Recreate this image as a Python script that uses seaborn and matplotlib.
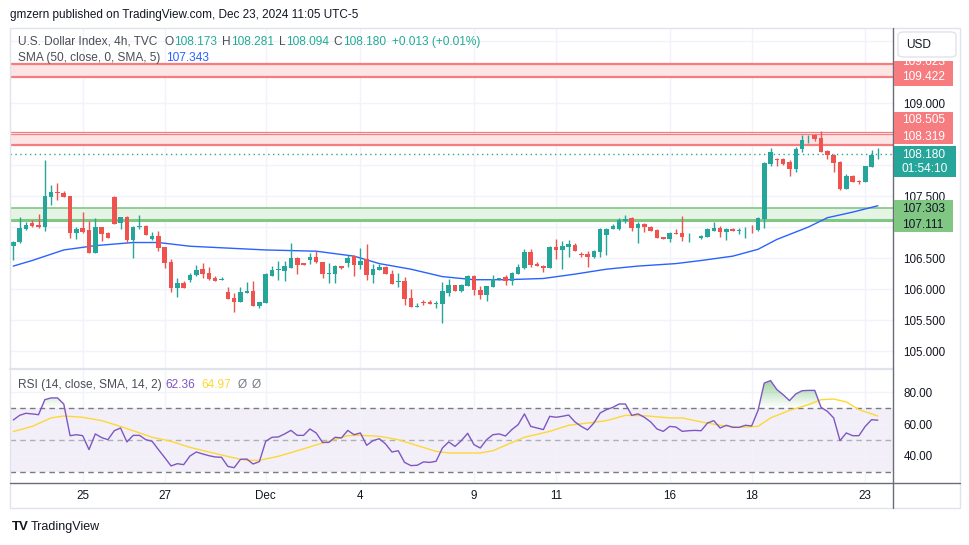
import numpy as np
import pandas as pd
import seaborn as sns
import matplotlib.pyplot as plt
from matplotlib.patches import Rectangle, FancyBboxPatch
from matplotlib.lines import Line2D
from matplotlib.path import Path
from matplotlib.colors import to_rgb

# ---- data (U.S. Dollar Index, 4h bars) ----
opens = [106.699, 106.758, 106.973, 107.065, 107.027, 107.005, 107.489, 107.565, 107.548, 107.500,
         106.909, 106.984, 106.952, 106.586, 107.000, 106.903, 107.484, 107.070, 107.161, 106.796,
         106.995, 107.016, 106.812, 106.855, 106.683, 106.436, 106.022, 106.097, 106.151, 106.220,
         106.323, 106.258, 106.183, 106.151, 105.952, 105.855, 105.790, 105.941, 105.968, 105.732,
         105.780, 106.215, 106.312, 106.296, 106.344, 106.506, 106.414, 106.474, 106.516, 106.436,
         106.248, 106.248, 106.371, 106.420, 106.527, 106.382, 106.479, 106.226, 106.307, 106.355,
         106.248, 106.108, 106.129, 105.850, 105.715, 105.796, 105.796, 105.764, 105.764, 105.941,
         106.070, 105.974, 106.054, 106.210, 105.984, 105.909, 106.038, 106.156, 106.188, 106.134,
         106.247, 106.344, 106.597, 106.403, 106.376, 106.344, 106.677, 106.629, 106.683, 106.710,
         106.565, 106.565, 106.511, 106.597, 106.876, 106.962, 106.962, 107.097, 107.145, 106.989,
         107.048, 106.995, 106.952, 106.839, 106.812, 106.903, 106.903, 106.866, 106.866, 106.817,
         106.844, 106.941, 106.989, 106.914, 106.973, 106.936, 106.962, 106.973, 106.952, 107.134,
         108.022, 108.097, 108.097, 108.048, 107.941, 108.253, 108.414, 108.489, 108.430, 108.220,
         108.156, 108.048, 107.613, 107.823, 107.742, 107.731, 107.973, 108.173]
highs = [106.780, 107.161, 107.086, 107.113, 107.210, 108.081, 107.677, 107.710, 107.581, 107.500,
         107.000, 107.242, 107.097, 107.145, 107.000, 106.919, 107.500, 107.161, 107.177, 107.016,
         107.194, 107.027, 106.919, 106.936, 106.683, 106.484, 106.177, 106.129, 106.258, 106.387,
         106.419, 106.355, 106.210, 106.199, 106.032, 105.941, 106.032, 106.113, 106.129, 105.791,
         106.253, 106.371, 106.452, 106.457, 106.742, 106.522, 106.425, 106.576, 106.613, 106.436,
         106.425, 106.387, 106.376, 106.549, 106.543, 106.667, 106.726, 106.398, 106.409, 106.371,
         106.307, 106.258, 106.199, 106.000, 105.769, 105.828, 105.823, 105.807, 106.108, 106.167,
         106.070, 106.081, 106.232, 106.232, 106.054, 106.049, 106.220, 106.183, 106.226, 106.280,
         106.398, 106.645, 106.640, 106.435, 106.387, 106.694, 106.806, 106.769, 106.785, 106.742,
         106.602, 106.618, 106.629, 106.984, 106.989, 107.048, 107.140, 107.194, 107.167, 107.086,
         107.070, 107.016, 106.973, 106.839, 106.919, 106.968, 107.183, 106.909, 106.876, 106.871,
         106.978, 107.081, 107.016, 106.978, 106.989, 106.978, 107.005, 107.032, 107.161, 108.048,
         108.269, 108.107, 108.118, 108.081, 108.285, 108.489, 108.478, 108.500, 108.543, 108.242,
         108.172, 108.065, 107.855, 107.839, 107.763, 107.984, 108.242, 108.281]
lows = [106.473, 106.747, 106.952, 107.005, 106.984, 106.941, 107.355, 107.441, 107.489, 106.828,
        106.812, 106.898, 106.586, 106.586, 106.780, 106.828, 107.054, 106.973, 106.747, 106.505,
        106.962, 106.876, 106.796, 106.618, 106.344, 105.957, 105.876, 106.022, 106.118, 106.210,
        106.183, 106.151, 106.134, 106.151, 105.844, 105.629, 105.790, 105.930, 105.732, 105.699,
        105.780, 106.215, 106.146, 106.135, 106.344, 106.248, 106.388, 106.409, 106.425, 106.172,
        106.103, 106.103, 106.323, 106.355, 106.215, 106.323, 106.146, 106.103, 106.307, 106.248,
        106.086, 106.027, 105.748, 105.715, 105.715, 105.742, 105.753, 105.699, 105.446, 105.887,
        105.974, 105.957, 106.054, 105.904, 105.844, 105.812, 106.038, 106.145, 106.065, 106.059,
        106.247, 106.328, 106.360, 106.376, 106.280, 106.344, 106.484, 106.328, 106.521, 106.618,
        106.511, 106.360, 106.495, 106.521, 106.554, 106.962, 106.952, 107.059, 106.941, 106.737,
        106.925, 106.941, 106.828, 106.812, 106.758, 106.892, 106.769, 106.763, 106.866, 106.806,
        106.844, 106.941, 106.844, 106.790, 106.930, 106.892, 106.823, 106.898, 106.935, 106.978,
        107.989, 107.989, 108.000, 107.828, 107.882, 108.204, 108.350, 108.392, 108.215, 108.097,
        107.887, 107.597, 107.613, 107.731, 107.699, 107.731, 107.973, 108.094]
closes = [106.758, 106.979, 107.032, 107.016, 107.000, 107.500, 107.565, 107.548, 107.489, 106.909,
          106.968, 106.925, 106.586, 107.000, 106.892, 106.828, 107.054, 107.161, 106.796, 107.000,
          107.011, 106.876, 106.855, 106.667, 106.425, 106.022, 106.097, 106.022, 106.226, 106.307,
          106.247, 106.167, 106.134, 106.167, 105.844, 105.790, 105.952, 105.968, 105.732, 105.791,
          106.242, 106.307, 106.323, 106.371, 106.500, 106.393, 106.388, 106.516, 106.441, 106.248,
          106.264, 106.371, 106.344, 106.500, 106.393, 106.457, 106.226, 106.323, 106.355, 106.248,
          106.086, 106.129, 105.844, 105.715, 105.726, 105.774, 105.753, 105.774, 105.974, 106.070,
          105.974, 106.070, 106.210, 105.979, 105.909, 106.049, 106.156, 106.172, 106.129, 106.263,
          106.360, 106.597, 106.387, 106.376, 106.344, 106.677, 106.629, 106.699, 106.726, 106.618,
          106.554, 106.511, 106.613, 106.962, 106.968, 107.016, 107.108, 107.124, 106.989, 107.048,
          106.995, 106.941, 106.828, 106.812, 106.903, 106.892, 106.839, 106.876, 106.876, 106.855,
          106.962, 106.989, 106.914, 106.968, 106.930, 106.946, 106.973, 106.962, 107.145, 108.032,
          108.204, 108.086, 108.022, 107.941, 108.258, 108.403, 108.425, 108.425, 108.215, 108.156,
          108.038, 107.613, 107.823, 107.731, 107.726, 107.984, 108.161, 108.180]

# SMA(50) line, read at bar positions
sma_idx = [0, 3, 8, 13, 19, 23, 28, 32, 40, 48, 54, 58, 63, 68, 73, 78, 84, 89, 94, 99,
           105, 109, 114, 118, 121, 126, 129, 133, 137]
sma_val = [106.37, 106.46, 106.63, 106.70, 106.75, 106.75, 106.69, 106.67, 106.63, 106.61,
           106.53, 106.41, 106.32, 106.20, 106.15, 106.15, 106.17, 106.24, 106.32, 106.37,
           106.41, 106.46, 106.53, 106.64, 106.80, 107.00, 107.15, 107.24, 107.343]

# RSI(14) per bar and its SMA(14)
rsi = [62.5, 65.4, 66.7, 66.3, 65.8, 75.2, 76.3, 76.3, 72.5, 52.7,
       53.3, 52.7, 44.0, 53.8, 51.5, 50.2, 55.8, 57.5, 48.8, 52.9,
       52.9, 50.2, 49.2, 44.0, 39.0, 33.8, 35.2, 34.6, 40.0, 42.5,
       41.3, 40.2, 39.4, 39.2, 33.5, 32.7, 37.9, 38.1, 35.0, 36.5,
       49.2, 51.7, 51.9, 53.8, 56.0, 52.9, 52.9, 56.9, 54.4, 48.5,
       48.5, 51.7, 51.3, 56.0, 53.3, 54.4, 46.7, 49.6, 50.8, 47.5,
       42.5, 43.3, 36.0, 34.0, 34.2, 36.3, 36.0, 36.7, 45.0, 48.8,
       46.0, 49.6, 54.2, 47.1, 45.0, 50.2, 53.3, 53.8, 52.5, 56.5,
       59.6, 66.3, 58.5, 57.5, 56.5, 64.8, 64.2, 64.8, 65.6, 61.3,
       58.5, 56.3, 60.6, 66.9, 69.0, 70.4, 72.5, 72.5, 65.4, 66.3,
       64.2, 61.3, 56.9, 55.4, 58.5, 58.1, 55.4, 55.8, 56.0, 55.8,
       60.6, 62.1, 57.5, 59.2, 57.9, 57.9, 59.2, 58.8, 68.3, 85.6,
       87.1, 81.5, 78.3, 74.6, 78.8, 80.8, 81.0, 81.0, 70.4, 67.9,
       63.8, 49.6, 54.4, 52.7, 52.7, 58.5, 62.7, 62.36]
sig_idx = [0, 3, 6, 8, 11, 14, 17, 19, 22, 25, 28, 31, 35, 37, 39, 42, 45, 49, 53, 55,
           58, 61, 64, 67, 69, 74, 76, 78, 81, 85, 88, 91, 94, 97, 100, 104, 106, 109, 112, 115,
           118, 120, 123, 126, 128, 130, 132, 134, 137]
sig_val = [55.3, 58.5, 63.8, 65.0, 64.2, 62.1, 58.5, 55.8, 51.7, 49.2,
           45.4, 42.5, 38.8, 37.3, 37.3, 39.8, 43.3, 48.1, 52.7, 52.9,
           52.3, 50.2, 46.5, 42.9, 41.9, 41.9, 43.3, 46.7, 51.7, 55.4,
           59.2, 60.6, 62.1, 65.4, 65.2, 63.8, 63.8, 61.3, 59.2, 57.9,
           58.5, 63.8, 68.5, 72.1, 75.2, 75.6, 73.8, 69.0, 64.97]

# zones and axis labels
resist_zones = [(109.422, 109.623), (108.319, 108.505)]
support_zone = (107.111, 107.303)
last_price = 108.180
date_idx = [11, 24, 40, 55, 73, 86, 104, 117, 135]
date_labels = ['25', '27', 'Dec', '4', '9', '11', '16', '18', '23']
price_ticks = [105.0, 105.5, 106.0, 106.5, 107.0, 107.5, 108.0, 108.5, 109.0, 109.5, 110.0]
price_shown = ['105.000', '105.500', '106.000', '106.500', '', '107.500', '', '', '109.000', '', '']
rsi_ticks = [40, 60, 80]

UP, DOWN = '#26a69a', '#ef5350'
RED_ZONE, GREEN_ZONE = '#f77c80', '#81c784'
TXT = '#131722'
LEG = '#4a4d57'
W, H = 970, 545

sns.set_theme(style='white')
plt.rcParams['font.family'] = ['Liberation Sans', 'DejaVu Sans']

fig = plt.figure(figsize=(W / 100, H / 100), dpi=100)
ax = fig.add_axes([10 / W, 1 - 368 / H, 883 / W, 340 / H])
ax2 = fig.add_axes([10 / W, 1 - 482 / H, 883 / W, 112 / H])


def px(x, y):
    return x / W, 1 - y / H


# ---- main price pane ----
df = pd.DataFrame({'o': opens, 'h': highs, 'l': lows, 'c': closes})
df['i'] = np.arange(len(df))
df['col'] = np.where(df['c'] >= df['o'], UP, DOWN)
body = (df['c'] - df['o']).abs().clip(lower=0.012)

for lo, hi in resist_zones:
    ax.axhspan(lo, hi, color='#fde5e6', lw=0, zorder=1)
    ax.axhline(lo, color=RED_ZONE, lw=1.6, zorder=1.5)
    ax.axhline(hi, color=RED_ZONE, lw=0.9, zorder=1.5)
    ax.axhline(hi + 0.03, color=RED_ZONE, lw=0.9, zorder=1.5)
ax.axhspan(*support_zone, color='#e5f4e5', lw=0, zorder=1)
ax.axhline(support_zone[0], color=GREEN_ZONE, lw=2.2, zorder=1.5)
ax.axhline(support_zone[1], color=GREEN_ZONE, lw=1.2, zorder=1.5)

ax.vlines(df['i'], df['l'], df['h'], colors=df['col'], lw=1, zorder=3)
ax.bar(df['i'], body, bottom=df[['o', 'c']].min(axis=1), width=0.72,
       color=df['col'], lw=0, zorder=4)
sns.lineplot(x=sma_idx, y=sma_val, ax=ax, color='#2962ff', lw=1.0, zorder=2.5)
ax.axhline(last_price, color=UP, lw=1, ls=(0, (1, 2.5)), zorder=2)

ax.set_xlim(-0.52, 139.4)
ax.set_ylim(104.726, 110.21)
ax.set_yticks(price_ticks)
ax.set_yticklabels(price_shown)
ax.yaxis.tick_right()
ax.set_xticks(date_idx)
ax.tick_params(axis='x', length=0, labelbottom=False)
ax.tick_params(axis='y', length=0, pad=7.5, labelsize=8.4, labelcolor=TXT)
ax.grid(True, color='#f0f3fa', lw=1)
ax.set_axisbelow(True)
for s in ax.spines.values():
    s.set_visible(False)
ax.set_xlabel('')
ax.set_ylabel('')

# ---- RSI pane ----
xs = np.arange(len(rsi))
r = np.array(rsi)
ax2.axhspan(30, 70, color='#7e57c2', alpha=0.09, lw=0, zorder=0.5)
for lvl, a in [(70, 1), (50, 0.55), (30, 1)]:
    ax2.axhline(lvl, color='#787b86', alpha=a, lw=1, ls=(0, (4, 3)), zorder=1)
fb = ax2.fill_between(xs, 70, r, where=r > 70, interpolate=True,
                      facecolor='none', edgecolor='none')
grad = np.zeros((100, 1, 4))
grad[..., :3] = to_rgb('#4caf50')
grad[:, 0, 3] = np.linspace(0.55, 0.0, 100)
im = ax2.imshow(grad, extent=[0, len(rsi) - 1, 70, 88], origin='upper',
                aspect='auto', zorder=1.5)
im.set_clip_path(Path.make_compound_path(*fb.get_paths()), transform=ax2.transData)
sns.lineplot(x=sig_idx, y=sig_val, ax=ax2, color='#fdd835', lw=1.0, zorder=2)
sns.lineplot(x=xs, y=rsi, ax=ax2, color='#7e57c2', lw=1.0, zorder=3)

ax2.set_xlim(-0.52, 139.4)
ax2.set_ylim(23.75, 93.75)
ax2.set_yticks(rsi_ticks)
ax2.set_yticklabels([f'{t:.2f}' for t in rsi_ticks])
ax2.yaxis.tick_right()
ax2.set_xticks(date_idx)
ax2.set_xticklabels(date_labels)
ax2.tick_params(axis='x', length=0, pad=6, labelsize=8.4, labelcolor=TXT)
ax2.tick_params(axis='y', length=0, pad=7.5, labelsize=8.4, labelcolor=TXT)
ax2.grid(True, color='#f0f3fa', lw=1)
ax2.set_axisbelow(True)
for s in ax2.spines.values():
    s.set_visible(False)

# ---- frame lines ----
fig.add_artist(Rectangle(px(10, 508), 950 / W, 480 / H, transform=fig.transFigure,
                         fill=False, edgecolor='#e0e3eb', lw=1))
fig.add_artist(Line2D([10 / W, 893 / W], [1 - 369 / H] * 2, color='#e0e3eb', lw=1.6))
fig.add_artist(Line2D([893 / W] * 2, [1 - 28 / H, 1 - 508 / H], color='#6a6d78', lw=1))
fig.add_artist(Line2D([10 / W, 960 / W], [1 - 483 / H] * 2, color='#6a6d78', lw=1))


# ---- price scale labels ----
def tag(x0, y0, x1, y1, color, rows, tcolor):
    rect = Rectangle(px(x0, y1), (x1 - x0) / W, (y1 - y0) / H, transform=fig.transFigure,
                     facecolor=color, edgecolor='none', zorder=5)
    fig.add_artist(rect)
    for txt, y in rows:
        t = fig.text(*px(902, y), txt, color=tcolor, fontsize=8.6, va='center',
                     ha='left', zorder=6)
        t.set_clip_path(rect)


tag(894, 61, 953, 86, RED_ZONE, [('109.623', 62), ('109.422', 77)], 'white')
tag(894, 112, 953, 144, RED_ZONE, [('108.505', 120), ('108.319', 137)], 'white')
tag(894, 146, 956, 177, UP, [('108.180', 154.5), ('01:54:10', 169)], 'white')
tag(894, 200, 953, 232, GREEN_ZONE, [('107.303', 209), ('107.111', 225.5)], TXT)
fig.add_artist(FancyBboxPatch(px(898, 57), 58 / W, 25 / H,
                              boxstyle='round,pad=0,rounding_size=0.006',
                              transform=fig.transFigure, facecolor='white',
                              edgecolor='#e0e3eb', lw=1, zorder=7))
fig.text(*px(906, 44.5), 'USD', fontsize=8.6, color=TXT, va='center', ha='left', zorder=8)

# ---- legends and header ----
renderer = fig.canvas.get_renderer()


def legend_row(x, y, parts):
    for s, c, gap in parts:
        t = fig.text(*px(x, y), s, fontsize=8.6, color=c, va='center')
        x = t.get_window_extent(renderer).x1 + gap


fig.text(*px(10, 15), 'gmzern published on TradingView.com, Dec 23, 2024 11:05 UTC-5',
         fontsize=8.5, color=TXT, va='center')
legend_row(18, 42, [('U.S. Dollar Index, 4h, TVC', LEG, 7), ('O', LEG, 0.3),
                    ('108.173', '#22ab94', 5), ('H', LEG, 0.3), ('108.281', '#22ab94', 5),
                    ('L', LEG, 0.3), ('108.094', '#22ab94', 5), ('C', LEG, 0.3),
                    ('108.180', '#22ab94', 6), ('+0.013 (+0.01%)', '#22ab94', 0)])
legend_row(18, 58, [('SMA (50, close, 0, SMA, 5)', LEG, 6), ('107.343', '#2962ff', 0)])
legend_row(18, 385, [('RSI (14, close, SMA, 14, 2)', LEG, 4), ('62.36', '#7e57c2', 6),
                     ('64.97', '#fdd835', 6), ('Ø', '#787b86', 5), ('Ø', '#787b86', 0)])

fig.text(*px(12, 527), 'TV', fontsize=9.5, fontweight='heavy', color=TXT, va='center')
fig.text(*px(31, 527), 'TradingView', fontsize=9, color=TXT, va='center')

fig.savefig('out.png', dpi=100, facecolor='white')
